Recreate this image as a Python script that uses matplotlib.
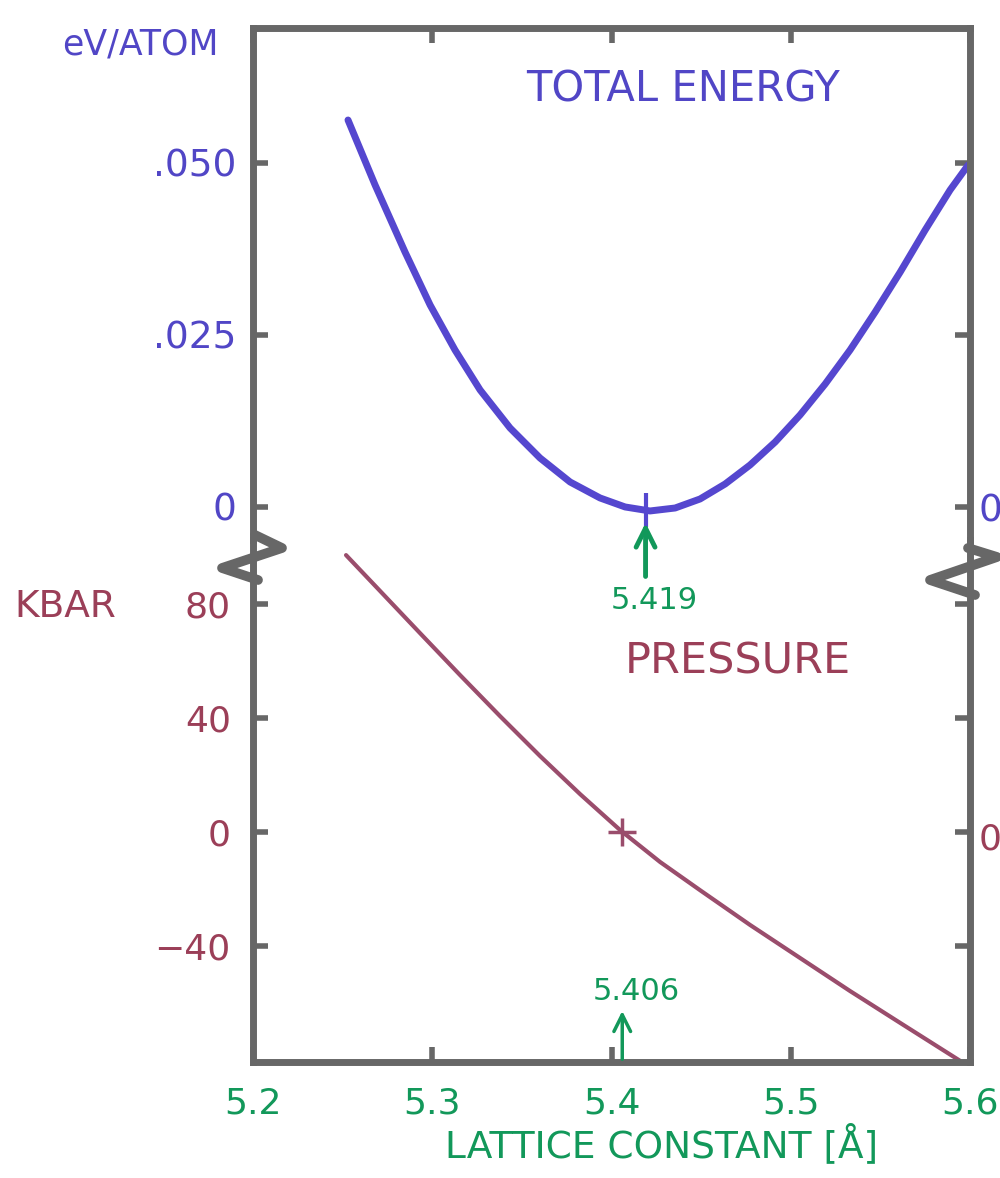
import matplotlib
matplotlib.use("Agg")
import matplotlib.pyplot as plt
from matplotlib.lines import Line2D

# ---------------- data ----------------
x_ticks = [5.2, 5.3, 5.4, 5.5, 5.6]
x_tick_labels = ["5.2", "5.3", "5.4", "5.5", "5.6"]

energy_ticks = [0.0, 0.025, 0.050]
energy_tick_labels = ["0", ".025", ".050"]
pressure_ticks = [-40, 0, 40, 80]
pressure_tick_labels = ["\u221240", "0", "40", "80"]

energy_x = [5.2530, 5.2681, 5.2848, 5.2988, 5.3127, 5.3267, 5.3434, 5.3601,
            5.3769, 5.3936, 5.4076, 5.4215, 5.4355, 5.4494, 5.4634, 5.4773,
            5.4913, 5.5052, 5.5192, 5.5331, 5.5471, 5.5611, 5.5750, 5.5889,
            5.5990]
energy_y = [0.05623, 0.04679, 0.03705, 0.02935, 0.02281, 0.01700, 0.01148,
            0.00712, 0.00363, 0.00131, 0.00000, -0.00058, -0.00015, 0.00116,
            0.00334, 0.00610, 0.00944, 0.01337, 0.01787, 0.02281, 0.02833,
            0.03415, 0.04025, 0.04606, 0.04969]

pressure_x = [5.2519, 5.2709, 5.2932, 5.3155, 5.3378, 5.3601, 5.3825, 5.4048,
              5.4271, 5.4494, 5.4773, 5.5052, 5.5331, 5.5611, 5.5945]
pressure_y = [97.2, 84.6, 69.8, 55.1, 40.7, 26.7, 13.3, 0.7, -10.5, -20.4,
              -32.6, -44.2, -55.8, -67.0, -80.3]

energy_min_x = 5.419
energy_min_y = -0.0005
pressure_zero_x = 5.406
pressure_zero_y = 0.0

# ---------------- styles ----------------
GRAY = "#676767"
BLUE = "#5547cf"
BLUE_TXT = "#5146c6"
MAROON = "#9a4d6c"
MAROON_TXT = "#9b3f58"
GREEN = "#12985a"

W, H = 1000, 1178
fig = plt.figure(figsize=(W / 100, H / 100), dpi=100)
fig.patch.set_facecolor("white")

L, R, T, S, B = 253, 970, 28, 540, 1062


def fx(px):
    return px / W


def fy(py):
    return 1 - py / H


ax_e = fig.add_axes([fx(L), fy(S), fx(R) - fx(L), fy(T) - fy(S)])
ax_p = fig.add_axes([fx(L), fy(B), fx(R) - fx(L), fy(S) - fy(B)])

for ax in (ax_e, ax_p):
    ax.set_facecolor("none")
    for sp in ax.spines.values():
        sp.set_color(GRAY)
        sp.set_linewidth(5)
        sp.set_capstyle("projecting")
    ax.set_xlim(5.2, 5.6)
    ax.set_xticks(x_ticks)

ax_e.spines["bottom"].set_visible(False)
ax_p.spines["top"].set_visible(False)

ax_e.set_ylim(-0.0048, 0.0696)
ax_p.set_ylim(-80.7, 102.5)

# energy axis ticks
ax_e.set_yticks(energy_ticks)
ax_e.set_yticklabels(energy_tick_labels)
ax_e.tick_params(axis="y", direction="in", length=11, width=4, color=GRAY,
                 left=True, right=True, labelleft=True, labelright=False,
                 labelcolor=BLUE_TXT, labelsize=27, pad=12)
ax_e.tick_params(axis="x", direction="in", length=11, width=4, color=GRAY,
                 top=True, bottom=False, labeltop=False, labelbottom=False)

# pressure axis ticks
ax_p.set_yticks(pressure_ticks)
ax_p.set_yticklabels(pressure_tick_labels)
ax_p.tick_params(axis="y", direction="in", length=11, width=4, color=GRAY,
                 left=True, right=True, labelleft=True, labelright=False,
                 labelcolor=MAROON_TXT, labelsize=26, pad=16)
ax_p.set_xticklabels(x_tick_labels)
ax_p.tick_params(axis="x", direction="in", length=11, width=4, color=GRAY,
                 top=False, bottom=True, labelbottom=True,
                 labelcolor=GREEN, labelsize=26, pad=18)

# curves
ax_e.plot(energy_x, energy_y, color=BLUE, lw=5, solid_capstyle="round",
          solid_joinstyle="round", clip_on=False)
ax_e.plot([energy_min_x], [energy_min_y], marker="|", ms=24, mew=3, color=BLUE,
          clip_on=False)
ax_p.plot(pressure_x, pressure_y, color=MAROON, lw=3, solid_capstyle="round",
          solid_joinstyle="round", clip_on=False)
ax_p.plot([pressure_zero_x], [pressure_zero_y], marker="+", ms=20, mew=2.5,
          color=MAROON, clip_on=False)

# annotations
ax_e.annotate("", xy=(energy_min_x, -0.0019), xytext=(energy_min_x, -0.0105),
              arrowprops=dict(arrowstyle="->", color=GREEN, lw=3.5,
                              mutation_scale=34),
              annotation_clip=False)
ax_e.text(energy_min_x + 0.005, -0.0136, "5.419", color=GREEN, fontsize=22,
          ha="center", va="center", clip_on=False)

ax_p.annotate("", xy=(pressure_zero_x, -61.8), xytext=(pressure_zero_x, -80.7),
              arrowprops=dict(arrowstyle="->", color=GREEN, lw=2.5,
                              mutation_scale=30),
              annotation_clip=False)
ax_p.text(pressure_zero_x + 0.008, -56.0, "5.406", color=GREEN, fontsize=22,
          ha="center", va="center", clip_on=False)

# right-hand "0" labels
ax_e.annotate("0", xy=(1.0, 0.0), xycoords=("axes fraction", "data"),
              xytext=(6, -3), textcoords="offset points", color=BLUE_TXT,
              fontsize=27, ha="left", va="center", annotation_clip=False)
ax_p.annotate("0", xy=(1.0, 0.0), xycoords=("axes fraction", "data"),
              xytext=(6, -5), textcoords="offset points", color=MAROON_TXT,
              fontsize=26, ha="left", va="center", annotation_clip=False)

# titles / axis labels
fig.text(fx(140), fy(45), "eV/ATOM", color=BLUE_TXT, fontsize=25,
         ha="center", va="center")
fig.text(fx(683), fy(90), "TOTAL ENERGY", color=BLUE_TXT, fontsize=30,
         ha="center", va="center")
fig.text(fx(65), fy(607), "KBAR", color=MAROON_TXT, fontsize=27,
         ha="center", va="center")
fig.text(fx(738), fy(662), "PRESSURE", color=MAROON_TXT, fontsize=31,
         ha="center", va="center")
fig.text(fx(662), fy(1145), "LATTICE CONSTANT [Å]", color=GREEN, fontsize=27,
         ha="center", va="center")

# axis-break zigzags on both side spines
left_zig = [(2, -23), (29, -10), (-31, 10), (5, 22)]
right_zig = [(-2, -22), (27, -13), (-40, 10), (5, 25)]
for (x0, y0), pts in (((L, 558), left_zig), ((R, 570), right_zig)):
    xs = [fx(x0 + dx) for dx, dy in pts]
    ys = [fy(y0 + dy) for dx, dy in pts]
    fig.add_artist(Line2D(xs, ys, transform=fig.transFigure, color=GRAY,
                          lw=7, solid_capstyle="round",
                          solid_joinstyle="round"))

fig.savefig("out.png", dpi=100, facecolor="white")
